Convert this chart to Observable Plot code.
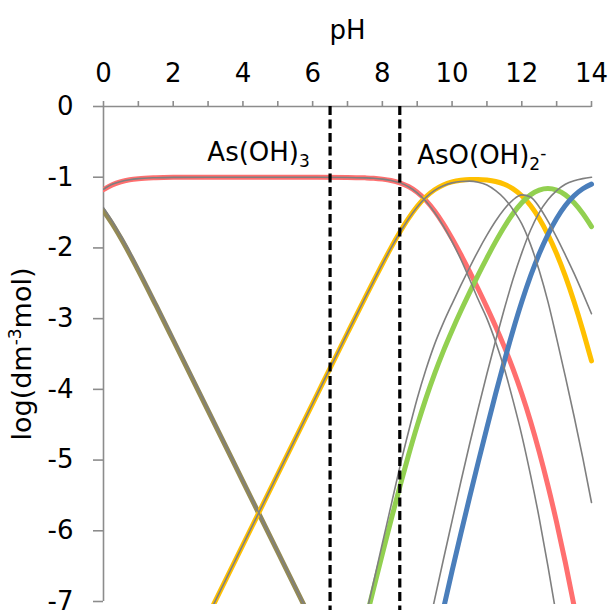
<!DOCTYPE html>
<html><head><meta charset="utf-8">
<script src="https://cdn.jsdelivr.net/npm/d3@7"></script>
<script src="https://cdn.jsdelivr.net/npm/@observablehq/plot@0.6"></script>
<style>body{margin:0;background:#fff}</style>
</head><body><div id="chart"></div>
<script>
// pH grid shared by all curves
const pH = [0,0.25,0.5,0.75,1,1.5,2,3,4,5,6,7,7.5,7.75,8,8.25,8.5,8.75,9,9.25,9.5,9.75,10,10.25,10.5,10.75,11,11.25,11.5,11.75,12,12.25,12.5,12.75,13,13.25,13.5,13.75,14];

// coloured species (log concentration)
const asOH2plus = [-1.476,-1.658,-1.864,-2.087,-2.321,-2.807,-3.302,-4.300,-5.300,-6.300,-7.301,null,null,null,null,null,null,null,null,null,null,null,null,null,null,null,null,null,null,null,null,null,null,null,null,null,null,null,null];
const asOH3 = [-1.176,-1.108,-1.064,-1.037,-1.021,-1.007,-1.002,-1.000,-1.000,-1.000,-1.001,-1.003,-1.009,-1.015,-1.027,-1.046,-1.079,-1.132,-1.213,-1.327,-1.477,-1.659,-1.867,-2.093,-2.332,-2.581,-2.840,-3.111,-3.400,-3.714,-4.062,-4.450,-4.883,-5.361,-5.883,-6.450,-7.062,-7.713,null];
const asOOH2 = [null,null,null,null,null,null,-8.2,-7.2,-6.2,-5.2,-4.201,-3.203,-2.709,-2.465,-2.227,-1.996,-1.779,-1.582,-1.413,-1.277,-1.177,-1.109,-1.067,-1.043,-1.032,-1.031,-1.040,-1.061,-1.100,-1.164,-1.262,-1.400,-1.583,-1.811,-2.083,-2.400,-2.762,-3.163,-3.598];
const asO2OH = [null,null,null,null,null,null,null,null,null,null,null,-8.303,-7.309,-6.815,-6.327,-5.846,-5.379,-4.932,-4.513,-4.127,-3.777,-3.459,-3.167,-2.893,-2.632,-2.381,-2.140,-1.911,-1.700,-1.514,-1.362,-1.250,-1.183,-1.161,-1.183,-1.250,-1.362,-1.513,-1.698];
const asO3 = [null,null,null,null,null,null,null,null,null,null,null,null,null,null,null,null,null,null,null,null,-7.677,-7.109,-6.567,-6.043,-5.532,-5.031,-4.540,-4.061,-3.600,-3.164,-2.762,-2.400,-2.083,-1.811,-1.583,-1.400,-1.262,-1.163,-1.098];

// thin grey comparison curves
const greyOlive = [-1.43,-1.62,-1.83,-2.05,-2.29,-2.78,-3.27,-4.28,-5.29,-6.29,-7.29,null,null,null,null,null,null,null,null,null,null,null,null,null,null,null,null,null,null,null,null,null,null,null,null,null,null,null,null];
const greyRed = [-1.17,-1.10,-1.06,-1.035,-1.02,-1.007,-1.002,-1.0,-1.0,-1.0,-1.001,-1.003,-1.009,-1.015,-1.027,-1.046,-1.08,-1.135,-1.22,-1.34,-1.50,-1.69,-1.91,-2.16,-2.44,-2.73,-3.00,-3.33,-3.71,-4.16,-4.65,-5.21,-5.82,-6.50,-7.22,null,null,null,null];
const greyYellow = [null,null,null,null,null,null,-8.2,-7.2,-6.2,-5.2,-4.2,-3.2,-2.71,-2.47,-2.23,-2.0,-1.785,-1.59,-1.42,-1.285,-1.185,-1.12,-1.08,-1.06,-1.055,-1.07,-1.11,-1.19,-1.30,-1.46,-1.66,-1.95,-2.32,-2.76,-3.28,-3.82,-4.38,-4.97,-5.6];
const greyGreen = [null,null,null,null,null,null,null,null,null,null,null,-8.4,-7.26,-6.72,-6.18,-5.64,-5.10,-4.60,-4.13,-3.72,-3.36,-3.06,-2.79,-2.53,-2.28,-2.04,-1.82,-1.62,-1.45,-1.32,-1.25,-1.28,-1.42,-1.62,-1.85,-2.10,-2.36,-2.64,-2.93];
const greyBlue = [null,null,null,null,null,null,null,null,null,null,null,null,null,null,null,null,null,null,null,-7.54,-6.97,-6.41,-5.86,-5.31,-4.78,-4.27,-3.78,-3.31,-2.86,-2.44,-2.07,-1.75,-1.50,-1.32,-1.19,-1.10,-1.05,-1.02,-1.00];

// axes
const xTicks = [0,1,2,3,4,5,6,7,8,9,10,11,12,13,14];
const yTicks = [0,-1,-2,-3,-4,-5,-6,-7];
const dashedPH = [6.5, 8.5];

const rows = arr => pH.map((x,i)=>({pH:x, v:arr[i]})).filter(d=>d.v!==null);

const colored = [
  [asOH2plus, "#948A54"],
  [asOH3, "#FF6F6F"],
  [asOOH2, "#FFC000"],
  [asO2OH, "#92D050"],
  [asO3, "#4A7EBB"]
];
const greys = [greyOlive, greyRed, greyYellow, greyGreen, greyBlue];

const chart = Plot.plot({
  width: 611, height: 610,
  marginLeft: 103, marginRight: 20, marginTop: 106, marginBottom: 9,
  style: {fontFamily: "'DejaVu Sans', sans-serif", fontSize: "26px", color: "black", background: "white"},
  x: {domain: [0, 14]},
  y: {domain: [-7, 0]},
  marks: [
    Plot.ruleY([0], {stroke: "#8c8c8c", strokeWidth: 1.6}),
    Plot.ruleX([0], {stroke: "#8c8c8c", strokeWidth: 1.6}),
    Plot.axisX({anchor: "top", ticks: xTicks, tickSize: 6, tickPadding: 19, stroke: "#8c8c8c", strokeWidth: 1.6, fill: "black",
      tickFormat: d => d % 2 === 0 ? String(d) : "", label: null, fontSize: 26}),
    Plot.axisY({anchor: "left", ticks: yTicks, tickSize: 10, tickPadding: 20, stroke: "#8c8c8c", strokeWidth: 1.6, fill: "black",
      tickFormat: d => String(d), label: null, fontSize: 26}),
    ...colored.map(([arr, c]) => Plot.line(rows(arr), {x: "pH", y: "v", stroke: c, strokeWidth: 5, curve: "monotone-x", clip: true})),
    ...greys.map(arr => Plot.line(rows(arr), {x: "pH", y: "v", stroke: "#7f7f7f", strokeWidth: 1.6, curve: "monotone-x", clip: true})),
    Plot.ruleX(dashedPH, {stroke: "black", strokeWidth: 3.2, strokeDasharray: "9,4.5", y1: 0, y2: -7.2, clip: false}),
    Plot.text(["pH"], {frameAnchor: "top", dy: -76, lineAnchor: "middle", fontSize: 26}),
    Plot.text(["log(dm-3mol)"], {frameAnchor: "left", dx: -81, rotate: -90, textAnchor: "middle", lineAnchor: "middle", fontSize: 27}),
    Plot.text(["As(OH)3"], {x: 2.98, y: -0.66, textAnchor: "start", fontSize: 26}),
    Plot.text(["AsO(OH)2-"], {x: 9.0, y: -0.69, textAnchor: "start", fontSize: 26})
  ]
});
document.getElementById("chart").append(chart);

// widen clip slightly so line ends show like the reference
chart.querySelectorAll("clipPath rect").forEach(r => {
  r.setAttribute("width", +r.getAttribute("width") + 4);
  r.setAttribute("height", +r.getAttribute("height") + 3);
});

// sub/superscripts as real text
const NS = "http://www.w3.org/2000/svg";
function rich(t, parts) {
  t.textContent = "";
  for (const [txt, size, dy] of parts) {
    const s = document.createElementNS(NS, "tspan");
    s.textContent = txt;
    if (size) s.setAttribute("font-size", size);
    if (dy) s.setAttribute("dy", dy);
    t.appendChild(s);
  }
}
chart.querySelectorAll("text").forEach(t => {
  const c = t.textContent;
  if (c === "As(OH)3") rich(t, [["As(OH)"], ["3", 17, 6]]);
  else if (c === "AsO(OH)2-") rich(t, [["AsO(OH)"], ["2", 17, 6], ["-", 17, -11]]);
  else if (c === "log(dm-3mol)") rich(t, [["log(dm"], ["-3", 17, -10], ["mol)", null, 10]]);
});
</script>
</body></html>
